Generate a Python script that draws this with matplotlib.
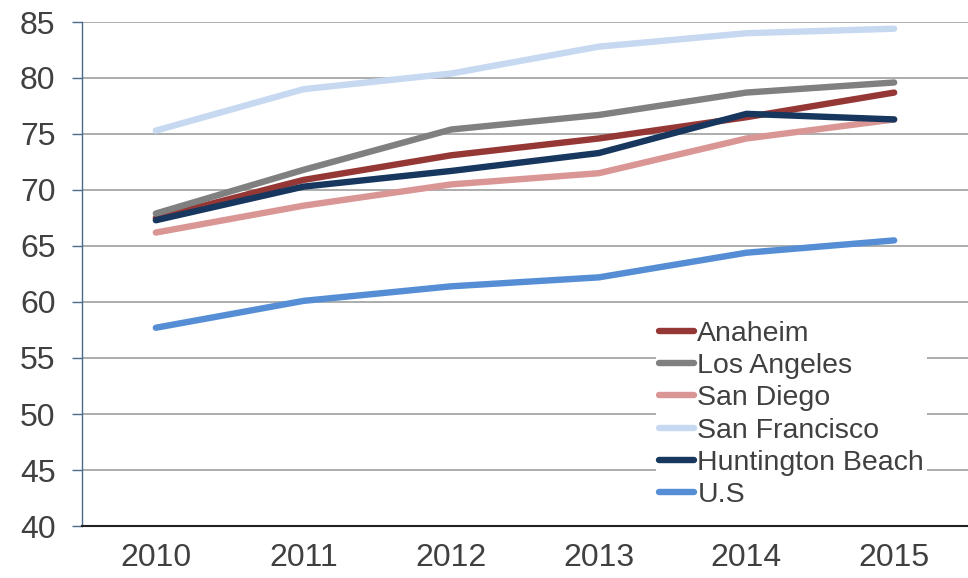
import matplotlib
matplotlib.use("Agg")
import matplotlib.pyplot as plt

plt.rcParams["font.family"] = ["Liberation Sans", "DejaVu Sans"]

years = ["2010", "2011", "2012", "2013", "2014", "2015"]
anaheim = [67.5, 70.9, 73.1, 74.6, 76.5, 78.7]
los_angeles = [67.9, 71.8, 75.4, 76.7, 78.7, 79.6]
san_diego = [66.2, 68.6, 70.5, 71.5, 74.6, 76.3]
san_francisco = [75.3, 79.0, 80.4, 82.8, 84.0, 84.4]
huntington_beach = [67.3, 70.3, 71.7, 73.3, 76.8, 76.3]
us = [57.7, 60.1, 61.4, 62.2, 64.4, 65.5]

series = [
    ("Anaheim", anaheim, "#953735"),
    ("Los Angeles", los_angeles, "#808080"),
    ("San Diego", san_diego, "#D99694"),
    ("San Francisco", san_francisco, "#C6D9F1"),
    ("Huntington Beach", huntington_beach, "#17375E"),
    ("U.S", us, "#558ED5"),
]

fig = plt.figure(figsize=(9.68, 5.78), dpi=100)
ax = fig.add_axes([82 / 968, 52 / 578, 1 - 82 / 968, (526 - 22) / 578])

x = list(range(len(years)))
for name, vals, color in series:
    ax.plot(x, vals, color=color, lw=4.6, solid_capstyle="round",
            solid_joinstyle="round", label=name, zorder=3)

ax.set_xlim(-0.5, len(years) - 0.5)
ax.set_ylim(40, 85)
ax.set_yticks(range(40, 86, 5))
ax.set_xticks(x)
ax.set_xticklabels(years)
ax.yaxis.grid(True, color="#A6A6A6", lw=1.3)
ax.set_axisbelow(True)

for side in ("top", "right"):
    ax.spines[side].set_visible(False)
ax.spines["left"].set_color("#4A6A8A")
ax.spines["left"].set_linewidth(1.0)
ax.spines["bottom"].set_color("#222222")
ax.spines["bottom"].set_linewidth(1.5)

ax.tick_params(axis="y", length=7, width=1.0, color="#4A6A8A",
               labelsize=23, labelcolor="#404040", pad=12)
ax.tick_params(axis="x", length=0, labelsize=23, labelcolor="#404040", pad=12)

leg = ax.legend(loc="upper left", bbox_to_anchor=(656 / 968, 1 - 318 / 578),
                bbox_transform=fig.transFigure, fontsize=20.5, frameon=True,
                handlelength=1.25, handletextpad=0.1, labelspacing=0.22,
                borderpad=0.1, borderaxespad=0)
leg.get_frame().set_facecolor("white")
leg.get_frame().set_edgecolor("none")
leg.get_frame().set_alpha(1)
for t in leg.get_texts():
    t.set_color("#404040")

fig.savefig("out.png", dpi=100)
